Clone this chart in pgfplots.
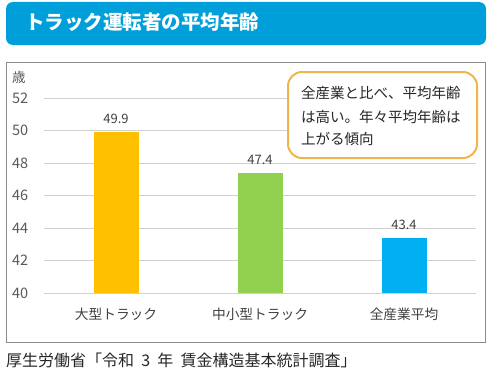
\documentclass[border=0pt]{standalone}
\usepackage{pgfplots}
\pgfplotsset{compat=1.18}
\usepackage{fontspec}
\setmainfont{Noto Sans CJK JP}
\definecolor{ttl}{HTML}{009FD9}
\definecolor{barA}{HTML}{FFC000}
\definecolor{barB}{HTML}{92D050}
\definecolor{barC}{HTML}{00B0F0}
\definecolor{callc}{HTML}{EEB54A}
\definecolor{txtg}{HTML}{595959}
\definecolor{txtd}{HTML}{404040}
\begin{document}
\begin{tikzpicture}[x=1pt,y=1pt]
\path[use as bounding box] (0,0) rectangle (492,376);
\fill[ttl, rounded corners=7pt] (6,331) rectangle (486,374);
\node[anchor=west, text=white, font=\fontsize{19.5}{20}\selectfont\bfseries, inner sep=0pt] at (25,353.5) {トラック運転者の平均年齢};
\draw[black!45, line width=0.8pt] (6,34) rectangle (485,314);
\begin{axis}[
  at={(44pt,83pt)}, anchor=south west, scale only axis,
  width=432pt, height=195pt,
  xmin=-0.5, xmax=2.5, ymin=40, ymax=52,
  ytick={40,42,...,52},
  ymajorgrids, grid style={draw=black!18, line width=0.8pt},
  axis line style={draw=none},
  major tick length=0pt,
  xtick={0,1,2},
  xticklabels={大型トラック,中小型トラック,全産業平均},
  /pgf/number format/assume math mode=true,
  xticklabel style={anchor=center, yshift=-21pt, font=\fontsize{13.7}{14}\selectfont, text=txtd},
  yticklabel style={anchor=west, xshift=-32pt, inner sep=0pt, font=\fontsize{14.5}{15}\selectfont, text=txtg},
  ybar, bar width=45pt,
  nodes near coords={\pgfmathprintnumber[fixed,fixed zerofill,precision=1,assume math mode=true]{\pgfplotspointmeta}},
  nodes near coords style={font=\fontsize{13}{13}\selectfont, text=txtd, yshift=5pt},
]
\addplot[fill=barA, draw=none, bar shift=0pt] coordinates {(0,49.9)};
\addplot[fill=barB, draw=none, bar shift=0pt] coordinates {(1,47.4)};
\addplot[fill=barC, draw=none, bar shift=0pt] coordinates {(2,43.4)};
\end{axis}
\node[anchor=west, inner sep=0pt, text=txtg, font=\fontsize{13.5}{14}\selectfont] at (12,299) {歳};
\draw[callc, line width=2pt, fill=white, rounded corners=14pt] (288,218) rectangle (477,304);
\begin{scope}[every node/.style={anchor=west, inner sep=0pt, text=black!85, font=\fontsize{14.5}{15}\selectfont}]
\node at (301,283) {全産業と比べ、平均年齢};
\node at (301,259) {は高い。年々平均年齢は};
\node at (301,237) {上がる傾向};
\end{scope}
\node[anchor=west, inner sep=0pt, text=black!85, font=\fontsize{16}{17}\selectfont] at (6,16) {厚生労働省「令和\hspace{0.45em}3\hspace{0.45em}年\hspace{0.45em}賃金構造基本統計調査」};
\end{tikzpicture}
\end{document}
